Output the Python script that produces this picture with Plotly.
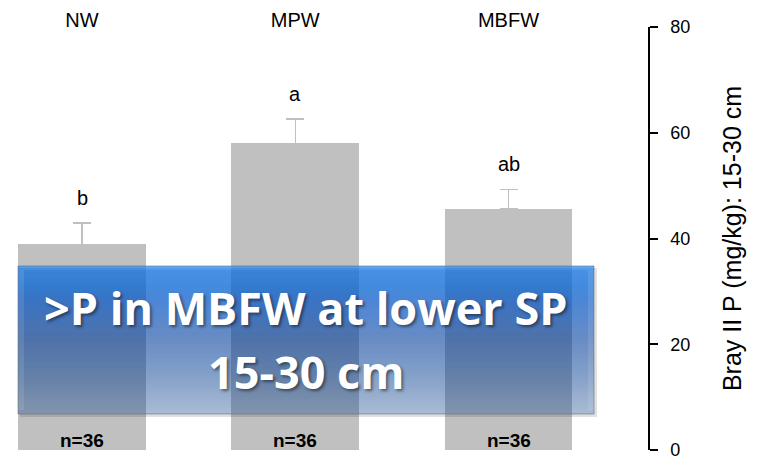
import plotly.graph_objects as go

# ---- data ----
categories = ["NW", "MPW", "MBFW"]
values = [38.9, 58.0, 45.6]
errors = [4.0, 4.6, 3.7]
letters = ["b", "a", "ab"]
n_labels = ["n=36", "n=36", "n=36"]
y_ticks = [0, 20, 40, 60, 80]
y_title = "Bray II P (mg/kg): 15-30 cm"
banner_lines = [">P in MBFW at lower SP", "15-30 cm"]

# ---- geometry (page body has an 8px margin) ----
OFF = 8
W, H = 761 - OFF, 459 - OFF
L, T = 0, 27 - OFF
R = W - (648 - OFF)
B = H - (450 - OFF)
PW, PH = W - L - R, H - T - B


def px_x(px):
    return (px - OFF - L) / PW


def px_y(py):
    return (H - B - (py - OFF)) / PH


# x data scale: category 0 centred at page x 82, spacing 213.25 px
X0_PX, DX = 82, 213.25
x_range = [(OFF - X0_PX) / DX, (648 - X0_PX) / DX]

xs = list(range(len(categories)))
BAR_GRAY = "#c0c0c0"

fig = go.Figure()
fig.add_trace(go.Bar(
    x=xs, y=values, width=0.6,
    marker=dict(color=BAR_GRAY, line=dict(width=0)),
    error_y=dict(type="data", array=errors, arrayminus=[0] * len(errors),
                 symmetric=False, color=BAR_GRAY, thickness=1.5, width=9),
    hoverinfo="skip", showlegend=False,
))

annotations = []
for i, (v, e, lt) in enumerate(zip(values, errors, letters)):
    annotations.append(dict(x=i, y=v + e, xref="x", yref="y", text=lt,
                            showarrow=False, yanchor="bottom", yshift=12,
                            font=dict(family="Arial", size=20, color="black")))
for i, nl in enumerate(n_labels):
    annotations.append(dict(x=i, y=0, xref="x", yref="y", text=nl,
                            showarrow=False, yanchor="bottom", yshift=-3,
                            font=dict(family="Arial", size=19, color="black",
                                      weight="bold")))

# ---- banner (gradient box) ----
bx0, bx1, by0, by1 = 18, 594, 266, 414
stops = [
    (0.00, (112, 176, 244)),
    (0.03, (70, 145, 230)),
    (0.22, (66, 134, 216)),
    (0.50, (100, 140, 196)),
    (0.78, (138, 164, 202)),
    (1.00, (170, 188, 212)),
]


def interp(t):
    for (t0, c0), (t1, c1) in zip(stops[:-1], stops[1:]):
        if t0 <= t <= t1:
            f = (t - t0) / (t1 - t0) if t1 > t0 else 0
            return tuple(c0[k] + f * (c1[k] - c0[k]) for k in range(3))
    return stops[-1][1]


shapes = []
# drop shadow
shapes.append(dict(type="rect", xref="paper", yref="paper", layer="above",
                   x0=px_x(bx0 + 2), x1=px_x(bx1 + 3), y0=px_y(by1 + 3), y1=px_y(by1),
                   fillcolor="rgba(0,0,0,0.12)", line=dict(width=0)))
shapes.append(dict(type="rect", xref="paper", yref="paper", layer="above",
                   x0=px_x(bx1), x1=px_x(bx1 + 3), y0=px_y(by1), y1=px_y(by0 + 2),
                   fillcolor="rgba(0,0,0,0.12)", line=dict(width=0)))
STEP = 2
N = (by1 - by0) // STEP
for k in range(N):
    t = (k + 0.5) / N
    target = interp(t)
    a = 0.80 - 0.42 * t
    c = [max(0, min(255, (target[j] - (1 - a) * 255) / a)) for j in range(3)]
    shapes.append(dict(type="rect", xref="paper", yref="paper", layer="above",
                       x0=px_x(bx0), x1=px_x(bx1),
                       y0=px_y(by0 + (k + 1) * STEP), y1=px_y(by0 + k * STEP),
                       fillcolor="rgba(%d,%d,%d,%.3f)" % (c[0], c[1], c[2], a),
                       line=dict(width=0)))
# bevel edges
for (xa, xb) in [(bx0, bx0 + 6), (bx1 - 6, bx1)]:
    shapes.append(dict(type="rect", xref="paper", yref="paper", layer="above",
                       x0=px_x(xa), x1=px_x(xb), y0=px_y(by1 - 4), y1=px_y(by0 + 4),
                       fillcolor="rgba(255,255,255,0.10)", line=dict(width=0)))
shapes.append(dict(type="rect", xref="paper", yref="paper", layer="above",
                   x0=px_x(bx0), x1=px_x(bx1), y0=px_y(by1), y1=px_y(by0),
                   fillcolor="rgba(0,0,0,0)",
                   line=dict(width=1, color="rgba(90,105,125,0.55)")))

for txt, cy in zip(banner_lines, [307, 371]):
    annotations.append(dict(x=px_x(306), y=px_y(cy), xref="paper", yref="paper",
                            text=txt, showarrow=False, xanchor="center", yanchor="middle",
                            font=dict(family="Open Sans", size=45, color="white",
                                      weight="bold",
                                      shadow="2px 2px 3px rgba(0,0,0,0.45)")))

fig.update_layout(
    width=W, height=H,
    margin=dict(l=L, r=R, t=T, b=B, pad=0, autoexpand=False),
    plot_bgcolor="white", paper_bgcolor="white",
    bargap=0,
    xaxis=dict(side="top", range=x_range,
               tickmode="array", tickvals=xs, ticktext=categories,
               tickfont=dict(family="Arial", size=20, color="black"),
               ticklabelstandoff=-5,
               showline=False, showgrid=False, zeroline=False, ticks="",
               automargin=False, fixedrange=True),
    yaxis=dict(side="right", range=[0, 80], tickmode="array", tickvals=y_ticks,
               ticks="outside", ticklen=8, tickwidth=1.5, tickcolor="black",
               showline=True, linecolor="black", linewidth=1.5,
               showgrid=False, zeroline=False, ticklabeloverflow="allow",
               ticklabelstandoff=9,
               tickfont=dict(family="Arial", size=18, color="black"),
               title=dict(text=y_title, standoff=34,
                          font=dict(family="Arial", size=25, color="black")),
               automargin=False, fixedrange=True),
    shapes=shapes,
    annotations=annotations,
)

fig.write_html("out.html")
